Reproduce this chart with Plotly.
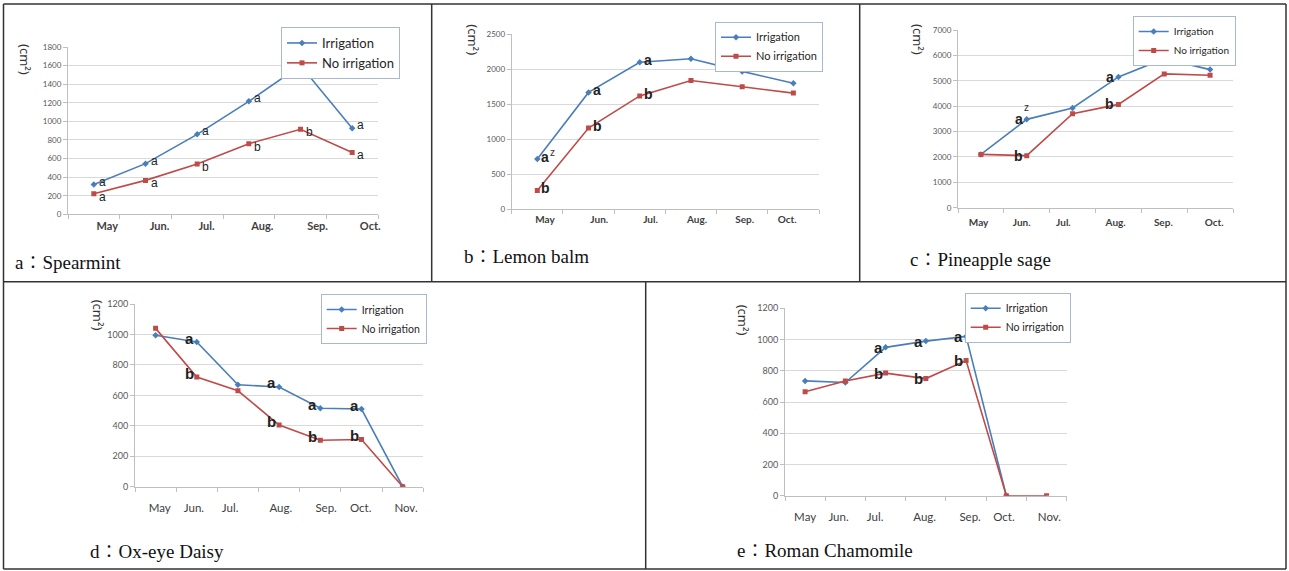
import plotly.graph_objects as go

W, H = 1289, 571

# ---------------- data ----------------
months6 = ["May", "Jun.", "Jul.", "Aug.", "Sep.", "Oct."]
months7 = ["May", "Jun.", "Jul.", "Aug.", "Sep.", "Oct.", "Nov."]

series_names = ["Irrigation", "No irrigation"]

a_irr = [320, 545, 860, 1215, 1600, 925]
a_no = [220, 365, 540, 760, 915, 665]
a_irr_letters = ["a", "a", "a", "a", "", "a"]
a_no_letters = ["a", "a", "b", "b", "b", "a"]

b_irr = [720, 1670, 2100, 2150, 1970, 1800]
b_no = [270, 1160, 1620, 1840, 1750, 1660]
b_irr_letters = ["a", "a", "a", "", "", ""]
b_irr_sup = ["z", "", "", "", "", ""]
b_no_letters = ["b", "b", "b", "", "", ""]

c_irr = [2100, 3480, 3930, 5150, 5870, 5440]
c_no = [2100, 2050, 3700, 4070, 5270, 5220]
c_irr_letters = ["", "a", "", "a", "", ""]
c_irr_sup = ["", "z", "", "", "", ""]
c_no_letters = ["", "b", "", "b", "", ""]

d_irr = [995, 950, 670, 655, 515, 510, 0]
d_no = [1040, 720, 630, 405, 305, 310, 0]
d_irr_letters = ["", "a", "", "a", "a", "a", ""]
d_no_letters = ["", "b", "", "b", "b", "b", ""]

e_irr = [735, 725, 950, 990, 1020, 0, None]
e_no = [665, 735, 785, 750, 865, 0, 0]
e_irr_letters = ["", "", "a", "a", "a", "", ""]
e_no_letters = ["", "", "b", "b", "b", "", ""]

captions = ["a\uff1aSpearmint", "b\uff1aLemon balm", "c\uff1aPineapple sage",
            "d\uff1aOx-eye Daisy", "e\uff1aRoman Chamomile"]
y_unit = "(cm\u00b2)"

panels = [
    dict(cats=months6, irr=a_irr, no=a_no, li=a_irr_letters, ln=a_no_letters, sup=None),
    dict(cats=months6, irr=b_irr, no=b_no, li=b_irr_letters, ln=b_no_letters, sup=b_irr_sup),
    dict(cats=months6, irr=c_irr, no=c_no, li=c_irr_letters, ln=c_no_letters, sup=c_irr_sup),
    dict(cats=months7, irr=d_irr, no=d_no, li=d_irr_letters, ln=d_no_letters, sup=None),
    dict(cats=months7, irr=e_irr, no=e_no, li=e_irr_letters, ln=e_no_letters, sup=None),
]

# ---------------- styles / layout (pixel geometry) ----------------
styles = [
    dict(box=(68, 378, 47, 214.3), ymax=1800, dtick=200,
         tickoff=[0.26, 0.27, 0.18, 0.26, 0.33, 0.35],
         bold=False, lsize=12, xanchor="left", xshift=3, yshift=(3, -3),
         sup=None,
         leg=(400, 27), ytit=(25, 60), cap=(13, 262),
         yfont=8, xfont=11, xbold=True, standoff=1, lfont=13),
    dict(box=(511.7, 819, 34.3, 209.3), ymax=2500, dtick=500,
         tickoff=[0.15, 0.21, 0.21, 0.12, 0.05, -0.12],
         bold=True, lsize=14, xanchor="left", xshift=2, yshift=(2, 2),
         sup=dict(xanchor="left", xshift=11, yshift=6),
         leg=(823, 21.7), ytit=(472.7, 40), cap=(461.7, 256.7),
         yfont=8, xfont=10, xbold=True, standoff=1, lfont=11),
    dict(box=(958, 1233, 30, 207.7), ymax=7000, dtick=1000,
         tickoff=[-0.05, -0.11, -0.2, -0.06, -0.02, 0.09],
         bold=True, lsize=14, xanchor="right", xshift=-2, yshift=(0, 0),
         sup=dict(xanchor="center", xshift=0, yshift=12),
         leg=(1235.7, 16), ytit=(918, 39), cap=(908, 260),
         yfont=8, xfont=10, xbold=True, standoff=5, lfont=10),
    dict(box=(135, 423.3, 304, 486.7), ymax=1200, dtick=200,
         tickoff=[0.1, -0.07, -0.19, 0.04, 0.14, -0.02, 0.08],
         bold=True, lsize=15, xanchor="right", xshift=-1, yshift=(4, 4),
         sup=None,
         leg=(426.7, 294), ytit=(98.3, 315), cap=(88, 551.7),
         yfont=9, xfont=11.5, xbold=False, standoff=10, lfont=10.5),
    dict(box=(785, 1066.7, 308.3, 495.7), ymax=1200, dtick=200,
         tickoff=[0, -0.17, -0.26, -0.03, 0.1, -0.06, 0.07],
         bold=True, lsize=15, xanchor="right", xshift=-1, yshift=(0, 0),
         sup=None,
         leg=(1070.7, 292.7), ytit=(743.3, 320), cap=(735, 550.7),
         yfont=9, xfont=11.5, xbold=False, standoff=10, lfont=10.5),
]

BLUE = "#4a7ebb"
RED = "#be4b48"
GRID = "#d9d9d9"
AXIS = "#bfbfbf"


def fx(px):
    return px / W


def fy(py):
    return 1 - py / H


fig = go.Figure()
layout = dict(
    width=W, height=H, autosize=False,
    margin=dict(l=0, r=0, t=0, b=0, pad=0, autoexpand=False),
    paper_bgcolor="white", plot_bgcolor="white",
    showlegend=True,
    annotations=[], shapes=[],
)

for i, (p, s) in enumerate(zip(panels, styles)):
    n = i + 1
    xa = "x" if n == 1 else f"x{n}"
    ya = "y" if n == 1 else f"y{n}"
    xkey = "xaxis" if n == 1 else f"xaxis{n}"
    ykey = "yaxis" if n == 1 else f"yaxis{n}"
    lkey = "legend" if n == 1 else f"legend{n}"
    ncat = len(p["cats"])
    xs = list(range(ncat))

    fig.add_trace(go.Scatter(
        x=xs, y=p["irr"], mode="lines+markers", name=series_names[0],
        line=dict(color=BLUE, width=1.6),
        marker=dict(symbol="diamond", size=5, color=BLUE),
        xaxis=xa, yaxis=ya, legend=lkey, connectgaps=False,
        hoverinfo="skip"))
    fig.add_trace(go.Scatter(
        x=xs, y=p["no"], mode="lines+markers", name=series_names[1],
        line=dict(color=RED, width=1.6),
        marker=dict(symbol="square", size=5, color=RED),
        xaxis=xa, yaxis=ya, legend=lkey,
        hoverinfo="skip"))

    x0, x1, y0, y1 = s["box"]
    layout[xkey] = dict(
        domain=[fx(x0), fx(x1)], anchor=ya, automargin=False,
        range=[-0.5, ncat - 0.5], fixedrange=True,
        tickmode="array",
        tickvals=[k + off for k, off in zip(xs, s["tickoff"])],
        ticktext=[f"<b>{c}</b>" if s["xbold"] else c for c in p["cats"]],
        ticks="", showgrid=False, zeroline=False,
        showline=True, linecolor=AXIS, linewidth=1,
        tickfont=dict(family="Lato, Arial", size=s["xfont"], color="#404040"),
        ticklabelstandoff=s["standoff"],
        minor=dict(tickmode="linear", tick0=-0.5, dtick=1, ticks="outside",
                   ticklen=4, tickcolor=AXIS, showgrid=False),
    )
    layout[ykey] = dict(
        domain=[fy(y1), fy(y0)], anchor=xa, automargin=False,
        range=[0, s["ymax"]], dtick=s["dtick"], fixedrange=True,
        showgrid=True, gridcolor=GRID, gridwidth=1, zeroline=False,
        showline=True, linecolor=AXIS, linewidth=1,
        ticks="outside", ticklen=4, tickcolor=AXIS,
        tickfont=dict(family="Lato, Arial", size=s["yfont"], color="#595959"),
    )
    layout[lkey] = dict(
        x=fx(s["leg"][0]), y=fy(s["leg"][1]), xanchor="right", yanchor="top",
        xref="paper", yref="paper",
        bgcolor="white", bordercolor="#a9b8d2", borderwidth=1,
        font=dict(family="Lato, Arial", size=s["lfont"], color="#262626"),
        tracegroupgap=0, itemwidth=30,
    )

    # significance letters
    for si, (series, letters) in enumerate(((p["irr"], p["li"]), (p["no"], p["ln"]))):
        for k, (v, t) in enumerate(zip(series, letters)):
            if not t or v is None:
                continue
            txt = f"<b>{t}</b>" if s["bold"] else t
            layout["annotations"].append(dict(
                x=k, y=v, xref=xa, yref=ya, text=txt, showarrow=False,
                xanchor=s["xanchor"], yanchor="middle",
                xshift=s["xshift"], yshift=s["yshift"][si],
                font=dict(family="Arial, Liberation Sans", size=s["lsize"], color="#222222"),
            ))
    if p["sup"] and s["sup"]:
        for k, (v, t) in enumerate(zip(p["irr"], p["sup"])):
            if not t:
                continue
            layout["annotations"].append(dict(
                x=k, y=v, xref=xa, yref=ya, text=t, showarrow=False,
                xanchor=s["sup"]["xanchor"], yanchor="middle",
                xshift=s["sup"]["xshift"], yshift=s["sup"]["yshift"],
                font=dict(family="Arial, Liberation Sans", size=10, color="#333333"),
            ))

    # y unit label (rotated)
    layout["annotations"].append(dict(
        x=fx(s["ytit"][0]), y=fy(s["ytit"][1]), xref="paper", yref="paper",
        text=y_unit, textangle=90, showarrow=False,
        xanchor="center", yanchor="middle",
        font=dict(family="Noto Sans, Arial", size=13, color="#333333"),
    ))
    # panel caption
    layout["annotations"].append(dict(
        x=fx(s["cap"][0]), y=fy(s["cap"][1]), xref="paper", yref="paper",
        text=captions[i], showarrow=False, xanchor="left", yanchor="middle",
        font=dict(family="Liberation Serif, Noto Serif CJK KR, serif", size=19,
                  color="#111111"),
    ))

# panel frames
FR = dict(color="#333333", width=1.5)
frame_lines = [
    (3.5, 4, 1286, 4), (3.5, 569, 1286, 569), (3.5, 4, 3.5, 569), (1286, 4, 1286, 569),
    (3.5, 281.7, 1286, 281.7),
    (431.7, 4, 431.7, 281.7), (859.7, 4, 859.7, 281.7),
    (645.7, 281.7, 645.7, 569),
]
for (ax0, ay0, ax1, ay1) in frame_lines:
    layout["shapes"].append(dict(type="line", xref="paper", yref="paper",
                                 x0=fx(ax0), y0=fy(ay0), x1=fx(ax1), y1=fy(ay1),
                                 line=FR))

fig.update_layout(**layout)
fig.write_html(
    "out.html",
    config={"displayModeBar": False, "responsive": False},
    post_script=(
        "var gd=document.getElementById('{plot_id}');"
        "gd.style.position='fixed';gd.style.top='0px';gd.style.left='0px';"
        "document.documentElement.style.margin='0';document.body.style.margin='0';"
        "document.body.style.padding='0';document.documentElement.style.overflow='hidden';"
        "document.body.style.overflow='hidden';"
    ),
)
